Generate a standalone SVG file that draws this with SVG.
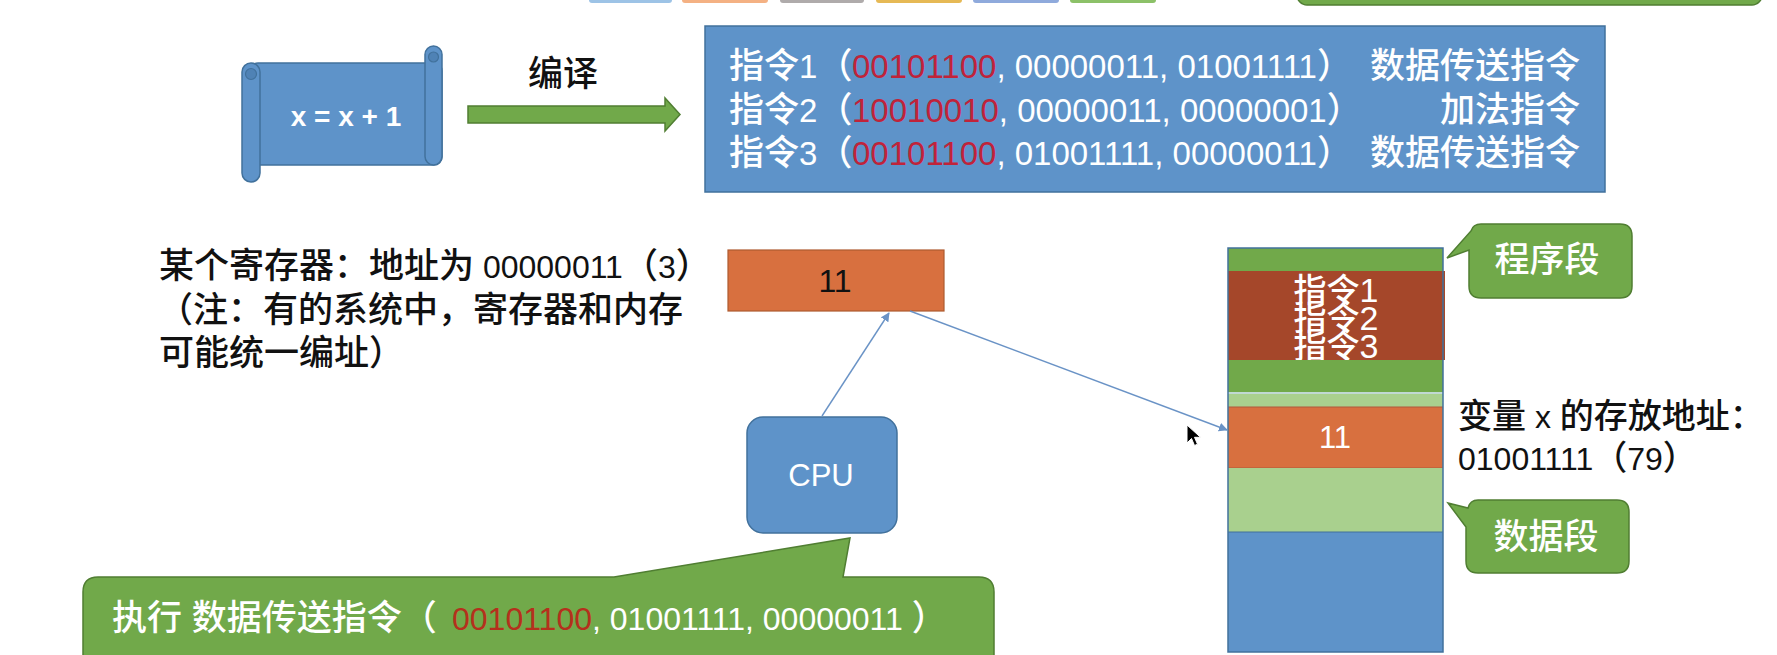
<svg xmlns="http://www.w3.org/2000/svg" width="1777" height="655" viewBox="0 0 1777 655">
<style>
  text { font-family: "Liberation Sans", "Noto Sans CJK SC", sans-serif; font-weight: 500; }
  text.b { font-weight: bold; }
  .w { fill: #ffffff; }
  .k { fill: #111111; }
  .red { fill: #C0233A; }
  .red2 { fill: #B5301C; }
  .blue { fill: #5E93C9; stroke: #41719C; stroke-width: 1.5; }
  .orange { fill: #D8703F; stroke: #AE5A2F; stroke-width: 1.2; }
  .green { fill: #71A94A; stroke: #507E32; stroke-width: 1.5; }
  .conn { stroke: #6A93C6; stroke-width: 1.4; fill: none; }
</style>
<defs>
  <marker id="ah" viewBox="0 0 10 10" refX="9" refY="5" markerWidth="9" markerHeight="9" markerUnits="userSpaceOnUse" orient="auto">
    <path d="M0,0 L10,5 L0,10 Z" fill="#6A93C6"/>
  </marker>
</defs>
<rect width="1777" height="655" fill="#ffffff"/>

<!-- cut-off elements at the top edge -->
<g id="top-tabs">
  <rect x="589" y="-12" width="83" height="15" rx="3" fill="#9DC3E6"/>
  <rect x="682" y="-12" width="86" height="15" rx="3" fill="#F4B183"/>
  <rect x="780" y="-12" width="84" height="15" rx="3" fill="#AFABAB"/>
  <rect x="876" y="-12" width="86" height="15" rx="3" fill="#E6B955"/>
  <rect x="973" y="-12" width="86" height="15" rx="3" fill="#8FAADC"/>
  <rect x="1070" y="-12" width="86" height="15" rx="3" fill="#8CC168"/>
</g>
<g id="top-right-box">
  <rect x="1297" y="-40" width="465" height="45" rx="10" class="green" stroke-width="2"/>
</g>

<!-- scroll: x = x + 1 -->
<g id="scroll">
  <rect x="250" y="63" width="192" height="102" rx="8" class="blue"/>
  <rect x="425" y="46" width="17" height="119" rx="8.5" class="blue"/>
  <circle cx="433.5" cy="57" r="5" fill="#4F82B5" stroke="#41719C" stroke-width="1.2"/>
  <rect x="242" y="63" width="18" height="119" rx="9" class="blue"/>
  <circle cx="251" cy="74" r="5.5" fill="#4F82B5" stroke="#41719C" stroke-width="1.2"/>
  <text x="346" y="126" font-size="28" text-anchor="middle" class="w b">x = x + 1</text>
</g>

<g id="compile-label">
  <text x="563" y="86" font-size="35" text-anchor="middle" class="k">编译</text>
</g>

<!-- instruction box -->
<g id="instructions">
  <rect x="705" y="26" width="900" height="166" class="blue"/>
  <text x="729" y="78" font-size="35" class="w">指令<tspan font-size="33">1</tspan>（<tspan x="852" font-size="33" class="red">00101100</tspan><tspan font-size="33">, 00000011, 01001111</tspan>）</text>
  <text x="1580" y="78" font-size="35" text-anchor="end" class="w">数据传送指令</text>
  <text x="729" y="122" font-size="35" class="w">指令<tspan font-size="33">2</tspan>（<tspan x="852" font-size="33" class="red">10010010</tspan><tspan font-size="33">, 00000011, 00000001</tspan>）</text>
  <text x="1580" y="122" font-size="35" text-anchor="end" class="w">加法指令</text>
  <text x="729" y="165" font-size="35" class="w">指令<tspan font-size="33">3</tspan>（<tspan x="852" font-size="33" class="red">00101100</tspan><tspan font-size="33">, 01001111, 00000011</tspan>）</text>
  <text x="1580" y="165" font-size="35" text-anchor="end" class="w">数据传送指令</text>
</g>

<!-- register note -->
<g id="register-note">
  <text x="159" y="278" font-size="35" class="k">某个寄存器：地址为<tspan font-size="32"> 00000011</tspan>（<tspan font-size="32">3</tspan>）</text>
  <text x="158" y="322" font-size="35" class="k">（注：有的系统中，寄存器和内存</text>
  <text x="159" y="365" font-size="35" class="k">可能统一编址）</text>
</g>

<g id="register">
  <rect x="728" y="250" width="216" height="61" class="orange"/>
  <text x="835" y="292" font-size="32" text-anchor="middle" class="k">11</text>
</g>

<g id="cpu">
  <rect x="747" y="417" width="150" height="116" rx="16" class="blue"/>
  <text x="821" y="486" font-size="31" text-anchor="middle" class="w">CPU</text>
</g>

<!-- memory column -->
<g id="memory">
  <rect x="1228" y="248" width="215" height="23" fill="#71A94A"/>
  <rect x="1228" y="271" width="217" height="89" fill="#A5472A"/>
  <text x="1336" y="302" font-size="33" text-anchor="middle" class="w">指令<tspan font-size="34">1</tspan></text>
  <text x="1336" y="330" font-size="33" text-anchor="middle" class="w">指令<tspan font-size="34">2</tspan></text>
  <text x="1336" y="358" font-size="33" text-anchor="middle" class="w">指令<tspan font-size="34">3</tspan></text>
  <rect x="1228" y="360" width="215" height="32" fill="#71A94A"/>
  <rect x="1228" y="392" width="215" height="15" fill="#A9D08E"/>
  <line x1="1228" y1="393" x2="1443" y2="393" stroke="#C9DDEA" stroke-width="1.5"/>
  <rect x="1228" y="407" width="215" height="61" fill="#D8703F"/>
  <line x1="1228" y1="407" x2="1443" y2="407" stroke="#B0593A" stroke-width="1"/>
  <line x1="1228" y1="468" x2="1443" y2="468" stroke="#B0593A" stroke-width="1"/>
  <text x="1335" y="448" font-size="31" text-anchor="middle" class="w">11</text>
  <rect x="1228" y="468" width="215" height="64" fill="#A9D08E"/>
  <rect x="1228" y="532" width="215" height="120" fill="#5E93C9"/>
  <line x1="1228" y1="532" x2="1443" y2="532" stroke="#41719C" stroke-width="1"/>
  <rect x="1228" y="248" width="215" height="404" fill="none" stroke="#41719C" stroke-width="1.5"/>
</g>

<g id="variable-note">
  <text x="1458" y="428" font-size="34" class="k">变量<tspan font-size="32"> x </tspan>的存放地址：</text>
  <text x="1458" y="470" font-size="34" class="k"><tspan font-size="32">01001111</tspan>（<tspan font-size="32">79</tspan>）</text>
</g>

<g id="callout-program">
  <path d="M1481,224 L1620,224 Q1632,224 1632,236 L1632,286 Q1632,298 1620,298 L1481,298 Q1469,298 1469,286 L1469,250 L1447,258 L1471,231 Q1473,224 1481,224 Z" class="green"/>
  <text x="1547" y="272" font-size="35" text-anchor="middle" class="w">程序段</text>
</g>

<g id="callout-data">
  <path d="M1478,500 L1617,500 Q1629,500 1629,512 L1629,561 Q1629,573 1617,573 L1478,573 Q1466,573 1466,561 L1466,527 L1448,503 L1468,508 Q1470,500 1478,500 Z" class="green"/>
  <text x="1546" y="549" font-size="35" text-anchor="middle" class="w">数据段</text>
</g>

<g id="callout-execute">
  <path d="M98,577 L614,577 L850,538 L843,577 L979,577 Q994,577 994,592 L994,700 L83,700 L83,592 Q83,577 98,577 Z" class="green"/>
  <text x="112" y="630" font-size="35" class="w">执行 数据传送指令（ <tspan x="452" font-size="32" class="red2">00101100</tspan><tspan font-size="32">, 01001111, 00000011 </tspan>）</text>
</g>

<g id="connectors">
  <path d="M468,106 L665,106 L665,98 L680,114.5 L665,131 L665,123 L468,123 Z" class="green"/>
  <line x1="822" y1="416" x2="889" y2="313" class="conn" marker-end="url(#ah)"/>
  <line x1="910" y1="311" x2="1227" y2="430" class="conn" marker-end="url(#ah)"/>
</g>

<g id="cursor">
  <path d="M1187,425 L1187,443 L1191.5,438.5 L1194.5,445.5 L1197.5,444.2 L1194.5,437.3 L1200.5,437.3 Z" fill="#000000" stroke="#ffffff" stroke-width="1"/>
</g>
</svg>
